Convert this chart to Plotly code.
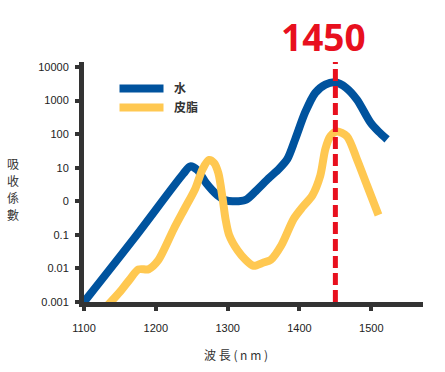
import plotly.graph_objects as go

# Water absorption (水)
water_wl = [1100, 1170, 1238, 1248, 1258, 1270, 1286, 1296, 1307, 1325, 1339, 1357, 1372,
            1383, 1394, 1408, 1422, 1436, 1450, 1465, 1480, 1499, 1510, 1522]
water_val = [0.001, 0.08, 6.5, 11, 8.5, 3.5, 1.5, 1.1, 1.0, 1.1, 2.0, 4.8, 9.5,
             18, 70, 450, 1700, 3000, 3500, 2400, 1070, 220, 120, 70]

# Sebum absorption (皮脂)
sebum_wl = [1133, 1150, 1163, 1176, 1190, 1203, 1225, 1240, 1255, 1265, 1274, 1281, 1287,
            1293, 1297, 1302, 1314, 1325, 1336, 1350, 1360, 1375, 1392, 1405, 1418, 1429,
            1436, 1443, 1452, 1466, 1480, 1494, 1510]
sebum_val = [0.0008, 0.002, 0.0045, 0.0093, 0.0095, 0.017, 0.15, 0.6, 2.4, 9, 17, 14, 7,
             1.2, 0.3, 0.1, 0.034, 0.018, 0.012, 0.015, 0.018, 0.05, 0.3, 0.7, 1.5, 5.8,
             36, 87, 120, 87, 18, 3, 0.39]

x_ticks = [1100, 1200, 1300, 1400, 1500]
y_ticks = [0.001, 0.01, 0.1, 1, 10, 100, 1000, 10000]
y_tick_labels = ["0.001", "0.01", "0.1", "0", "10", "100", "1000", "10000"]

marker_wl = 1450
marker_label = "1450"
series_names = ["水", "皮脂"]
x_title = "波 長 ( n m )"
y_title = "吸收係數"

AX = "#333333"
L, T, PW, PH = 84, 62, 339, 240

fig = go.Figure()
fig.add_trace(go.Scatter(x=water_wl, y=water_val, mode="lines",
                         name="\u00a0\u00a0<b>" + series_names[0] + "</b>",
                         line=dict(color="#00539E", width=8, shape="spline", smoothing=0.8)))
fig.add_trace(go.Scatter(x=sebum_wl, y=sebum_val, mode="lines",
                         name="\u00a0\u00a0<b>" + series_names[1] + "</b>",
                         line=dict(color="#FFC851", width=8, shape="spline", smoothing=0.8)))

fig.add_shape(type="line", xref="x", yref="paper", x0=marker_wl, x1=marker_wl, y0=0, y1=1,
              line=dict(color="#E8101E", width=5, dash="12px,5px"), layer="above")

fig.add_annotation(text="<b>" + marker_label + "</b>", xref="x", yref="paper", x=1433, y=1.108,
                   showarrow=False, font=dict(family="Open Sans", size=37, color="#E8101E"),
                   xanchor="center", yanchor="middle")

for i, ch in enumerate(y_title):
    fig.add_annotation(text=ch, xref="paper", yref="paper",
                       x=(13 - L) / PW, y=1 - (163 + 17 * i - T) / PH, showarrow=False,
                       font=dict(family="Noto Sans CJK TC", size=12, color=AX),
                       xanchor="center", yanchor="middle")

fig.add_annotation(text=x_title, xref="paper", yref="paper",
                   x=(236 - L) / PW, y=-(354 - 302) / PH, showarrow=False,
                   font=dict(family="Noto Sans CJK TC", size=12, color=AX),
                   xanchor="center", yanchor="middle")

fig.update_layout(
    width=445, height=372,
    margin=dict(l=L, r=445 - L - PW, t=T, b=372 - T - PH),
    plot_bgcolor="white", paper_bgcolor="white",
    font=dict(family="Liberation Sans", size=11, color="#222222"),
    showlegend=True,
    legend=dict(x=0.09, y=0.95, xanchor="left", yanchor="top", bgcolor="rgba(0,0,0,0)",
                font=dict(family="Noto Sans CJK TC", size=12, color=AX), itemwidth=44),
    xaxis=dict(range=[1100, 1572], tickvals=x_ticks, showgrid=False, zeroline=False,
               showline=True, linewidth=5, linecolor=AX, ticks="outside", ticklen=4,
               tickwidth=4, tickcolor=AX, ticklabelstandoff=8),
    yaxis=dict(type="log", range=[-3, 4.15], tickvals=y_ticks, ticktext=y_tick_labels,
               showgrid=False, zeroline=False, showline=True, linewidth=5, linecolor=AX,
               ticks="outside", ticklen=4, tickwidth=4, tickcolor=AX, ticklabelstandoff=4),
)

fig.write_html("out.html", config={"displayModeBar": False},
               post_script="document.body.style.margin='0';document.body.style.overflow='hidden';")
